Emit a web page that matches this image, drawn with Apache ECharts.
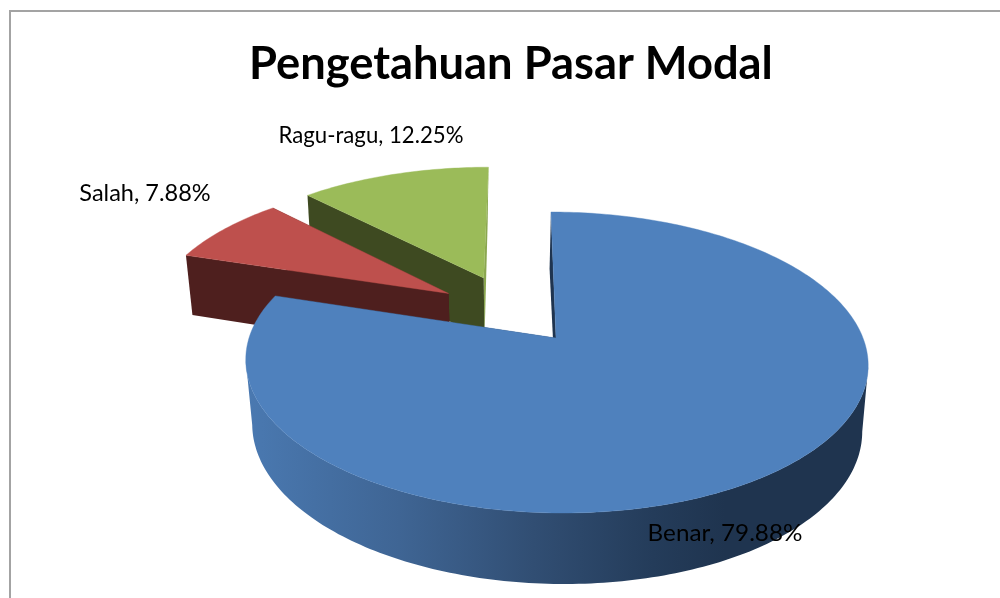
<!DOCTYPE html>
<html>
<head>
<meta charset="utf-8">
<style>html,body{margin:0;padding:0;background:#fff}#c{width:1000px;height:598px}</style>
<script src="https://cdn.jsdelivr.net/npm/echarts@6/dist/echarts.min.js"></script>
</head>
<body>
<div id="c"></div>
<script>
var titleText = 'Pengetahuan Pasar Modal';
var categories = ['Benar', 'Salah', 'Ragu-ragu'];
var values = [79.88, 7.88, 12.25];

// styling and layout, by category
var topColors = ['#4F81BD', '#BE504D', '#9BBB59'];
var wallColors = ['#1F344F', '#4E1F1E', '#3E4A21'];
var closingWall = ['#1F344F', '#4E1F1E', '#8AA64F'];
var explode = [[0, 0], [-0.362, -0.32], [-0.244, -0.439]];
var labelAt = [[725, 533], [145, 193], [371, 135]];
var labelScale = [1.01, 0.98, 0.925];
var font = 'Lato, Carlito, Calibri, sans-serif';

// projection of the pie plane onto the screen
var ax = 556, ay = 338, sx = 307, sy = 146.5, persp = 0.1628, shear = 0.04;
var total = values.reduce(function (a, b) { return a + b; }, 0);

function top3d(X, Y) {
  var d = 1 - persp * Y;
  var py = ay + Y * sy / d;
  return [ax + X * sx / d + (py - ay) * shear, py];
}
function bottom3d(X, Y) {
  var p = top3d(X, Y);
  return [557 + (p[0] - 557) * 0.98 + 1.5 * Y, p[1] + 64 + 7 * Y];
}
function sector(projector, off, a0, a1) {
  var pts = [], n = Math.max(2, Math.ceil((a1 - a0) * 180 / Math.PI));
  for (var i = 0; i <= n; i++) {
    var t = a0 + (a1 - a0) * i / n;
    pts.push(projector(off[0] + Math.sin(t), off[1] - Math.cos(t)));
  }
  return pts;
}
var blueWall = {
  type: 'linear', x: 246, y: 0, x2: 725, y2: 0, global: true,
  colorStops: [
    { offset: 0, color: '#4A79B1' },
    { offset: 0.32, color: '#3F6594' },
    { offset: 0.6, color: '#314E73' },
    { offset: 0.85, color: '#243C5A' },
    { offset: 1, color: '#1F344F' }
  ]
};

function renderSlice(params, api) {
  var i = api.value(0), v = api.value(1);
  var before = 0;
  for (var k = 0; k < i; k++) before += values[k];
  var a0 = before / total * 2 * Math.PI;
  var a1 = (before + v) / total * 2 * Math.PI;
  var off = explode[i];
  var rimT = sector(top3d, off, a0, a1);
  var rimB = sector(bottom3d, off, a0, a1);
  var apexT = top3d(off[0], off[1]);
  var apexB = bottom3d(off[0], off[1]);
  var children = [];
  // radial walls: the one at the slice's end angle, then the one at its start
  children.push({ type: 'polygon', shape: { points: [apexT, rimT[rimT.length - 1], rimB[rimB.length - 1], apexB] },
    style: { fill: closingWall[i] } });
  children.push({ type: 'polygon', shape: { points: [apexT, rimT[0], rimB[0], apexB] },
    style: { fill: wallColors[i] } });
  // outer curved wall, between the two silhouette points of the rim
  if (a1 - a0 > Math.PI) {
    var iR = 0, iL = 0;
    rimT.forEach(function (p, n) {
      if (p[0] > rimT[iR][0]) iR = n;
      if (p[0] < rimT[iL][0]) iL = n;
    });
    children.push({ type: 'polygon',
      shape: { points: rimT.slice(iR, iL + 1).concat(rimB.slice(iR, iL + 1).reverse()) },
      style: { fill: blueWall } });
  }
  children.push({ type: 'polygon', shape: { points: [apexT].concat(rimT) },
    style: { fill: topColors[i], stroke: topColors[i], lineWidth: 0.4 } });
  return { type: 'group', children: children };
}
function renderLabel(params, api) {
  var i = api.value(0);
  return { type: 'text', z2: 100,
    x: labelAt[i][0], y: labelAt[i][1], scaleX: labelScale[i],
    style: {
      text: categories[i] + ', ' + api.value(1).toFixed(2) + '%',
      x: 0, y: 0,
      align: 'center', verticalAlign: 'middle',
      fill: '#000', font: '24px ' + font
    } };
}

var drawData = categories.map(function (c, i) { return { name: c, value: [i, values[i]] }; }).reverse();

var chart = echarts.init(document.getElementById('c'), null, { renderer: 'canvas' });
chart.setOption({
  animation: false,
  backgroundColor: '#fff',
  title: {
    text: titleText, left: 244, top: 37,
    textStyle: { fontFamily: font, fontWeight: 'bold', fontSize: 45.3, color: '#000' }
  },
  graphic: [{ type: 'rect', silent: true, z: -1,
    shape: { x: 10, y: 11, width: 1100, height: 700 },
    style: { fill: '#fff', stroke: '#A3A3A3', lineWidth: 2 } }],
  series: [
    { type: 'custom', coordinateSystem: 'none', silent: true, renderItem: renderSlice, data: drawData, z: 2 },
    { type: 'custom', coordinateSystem: 'none', silent: true, renderItem: renderLabel, data: drawData, z: 3 }
  ]
});
</script>
</body>
</html>
